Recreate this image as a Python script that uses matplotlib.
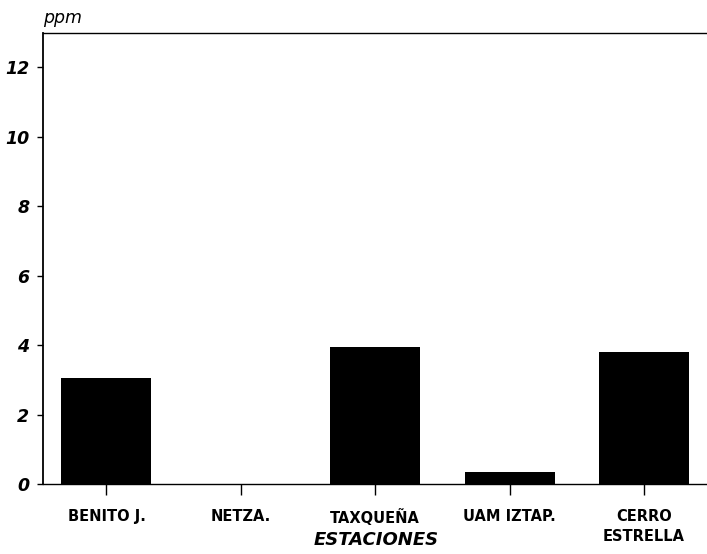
import matplotlib.pyplot as plt

estaciones = ["BENITO J.", "NETZA.", "TAXQUEÑA", "UAM IZTAP.", "CERRO\nESTRELLA"]
ppm = [3.05, 0.0, 3.95, 0.34, 3.8]
yticks = [0, 2, 4, 6, 8, 10, 12]

fig = plt.figure(figsize=(7.07, 5.54), dpi=100)
ax = fig.add_axes([0.0613, 0.1264, 0.9387, 0.8146])

x = list(range(len(estaciones)))
ax.bar(x, ppm, width=0.67, color="black")

ax.set_xlim(-0.47, 4.47)
ax.set_ylim(0, 13)

ax.set_yticks(yticks)
ax.set_yticklabels([str(v) for v in yticks], fontsize=12.5,
                   fontweight="bold", fontstyle="italic")
ax.set_xticks(x)
ax.set_xticklabels(estaciones, fontsize=10.5, fontweight="bold", linespacing=1.45)

ax.tick_params(axis="y", direction="out", length=4, width=1, pad=6)
ax.tick_params(axis="x", direction="out", length=8, width=1, pad=10)

ax.spines["right"].set_visible(False)
ax.spines["left"].set_linewidth(1.3)
for s in ["top", "bottom"]:
    ax.spines[s].set_linewidth(1.0)
    ax.spines[s].set_linestyle((0, (6, 1)))

ax.set_xlabel("ESTACIONES", fontsize=13, fontstyle="italic", fontweight="bold")
ax.xaxis.set_label_coords((376 - 43.3) / 663.7, -0.104)

ax.text(0.0, 1.012, "ppm", transform=ax.transAxes, fontsize=12.5,
        fontstyle="italic", ha="left", va="bottom")

fig.savefig("out.png", dpi=100)
